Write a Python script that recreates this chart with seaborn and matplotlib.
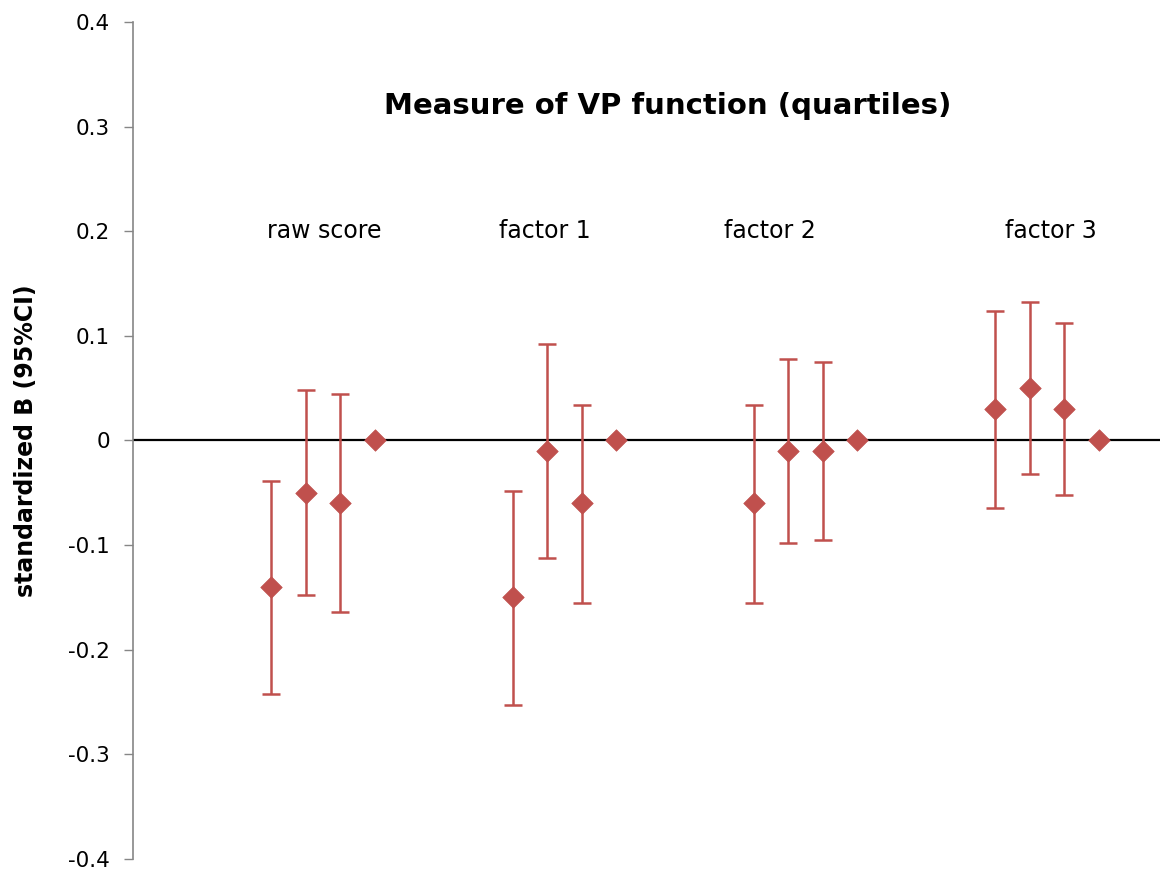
import numpy as np
import pandas as pd
import matplotlib
matplotlib.use("Agg")
import matplotlib.pyplot as plt
import seaborn as sns

# data
groups = ["raw score", "factor 1", "factor 2", "factor 3"]
quartiles = ["Q1", "Q2", "Q3", "Q4"]
estimate = [-0.14, -0.05, -0.06, 0.0,
            -0.15, -0.01, -0.06, 0.0,
            -0.06, -0.01, -0.01, 0.0,
            0.03, 0.05, 0.03, 0.0]
ci_low = [-0.242, -0.148, -0.164, np.nan,
          -0.253, -0.112, -0.155, np.nan,
          -0.155, -0.098, -0.095, np.nan,
          -0.065, -0.032, -0.052, np.nan]
ci_high = [-0.039, 0.048, 0.044, np.nan,
           -0.048, 0.092, 0.034, np.nan,
           0.034, 0.078, 0.075, np.nan,
           0.124, 0.132, 0.112, np.nan]
y_ticks = [-0.4, -0.3, -0.2, -0.1, 0, 0.1, 0.2, 0.3, 0.4]

RED = "#C0504D"


def build_frame():
    rows = []
    for g, name in enumerate(groups):
        for q, qname in enumerate(quartiles):
            i = g * len(quartiles) + q
            rows.append({"group": name, "quartile": qname,
                         "pos": 4 + g * 7 + q,
                         "est": estimate[i], "lo": ci_low[i], "hi": ci_high[i]})
    return pd.DataFrame(rows)


def draw(df):
    sns.set_style("white")
    plt.rcParams["text.color"] = "black"
    plt.rcParams["axes.labelcolor"] = "black"
    plt.rcParams["ytick.labelcolor"] = "black"

    fig = plt.figure(figsize=(11.6, 8.71), dpi=100)
    ax = fig.add_axes([0.1147, 0.0138, 0.8853, 0.961])

    ax.axhline(0, color="black", lw=1.6, zorder=1)

    ci = df.dropna(subset=["lo"])
    ax.errorbar(ci["pos"], ci["est"],
                yerr=[ci["est"] - ci["lo"], ci["hi"] - ci["est"]],
                fmt="none", ecolor=RED, elinewidth=1.8, capsize=6.5,
                capthick=1.8, zorder=2)
    sns.scatterplot(data=df, x="pos", y="est", marker="D", s=120,
                    color=RED, edgecolor=RED, linewidth=0.5, ax=ax,
                    zorder=3, legend=False)

    ax.set_xlim(0, 29.77)
    ax.set_ylim(-0.4, 0.4)
    ax.set_yticks(y_ticks)
    ax.set_yticklabels([f"{t:g}" for t in y_ticks])
    ax.set_xticks([])
    ax.set_xlabel("")
    ax.set_ylabel("standardized B (95%CI)", fontsize=17, fontweight="bold",
                  labelpad=22)
    ax.tick_params(axis="y", direction="out", length=6.5, width=1,
                   color="#868686", labelcolor="black", labelsize=15.5,
                   pad=10, left=True)

    for s in ["top", "right", "bottom"]:
        ax.spines[s].set_visible(False)
    ax.spines["left"].set_color("#868686")
    ax.spines["left"].set_linewidth(1.2)

    label_x = [5.53, 11.93, 18.47, 26.6]
    for name, x in zip(groups, label_x):
        ax.text(x, 0.2, name, ha="center", va="center", fontsize=17)
    ax.text(15.5, 0.32, "Measure of VP function (quartiles)", ha="center",
            va="center", fontsize=21, fontweight="bold")

    fig.savefig("out.png", dpi=100)


def main():
    df = build_frame()
    draw(df)


if __name__ == "__main__":
    main()
